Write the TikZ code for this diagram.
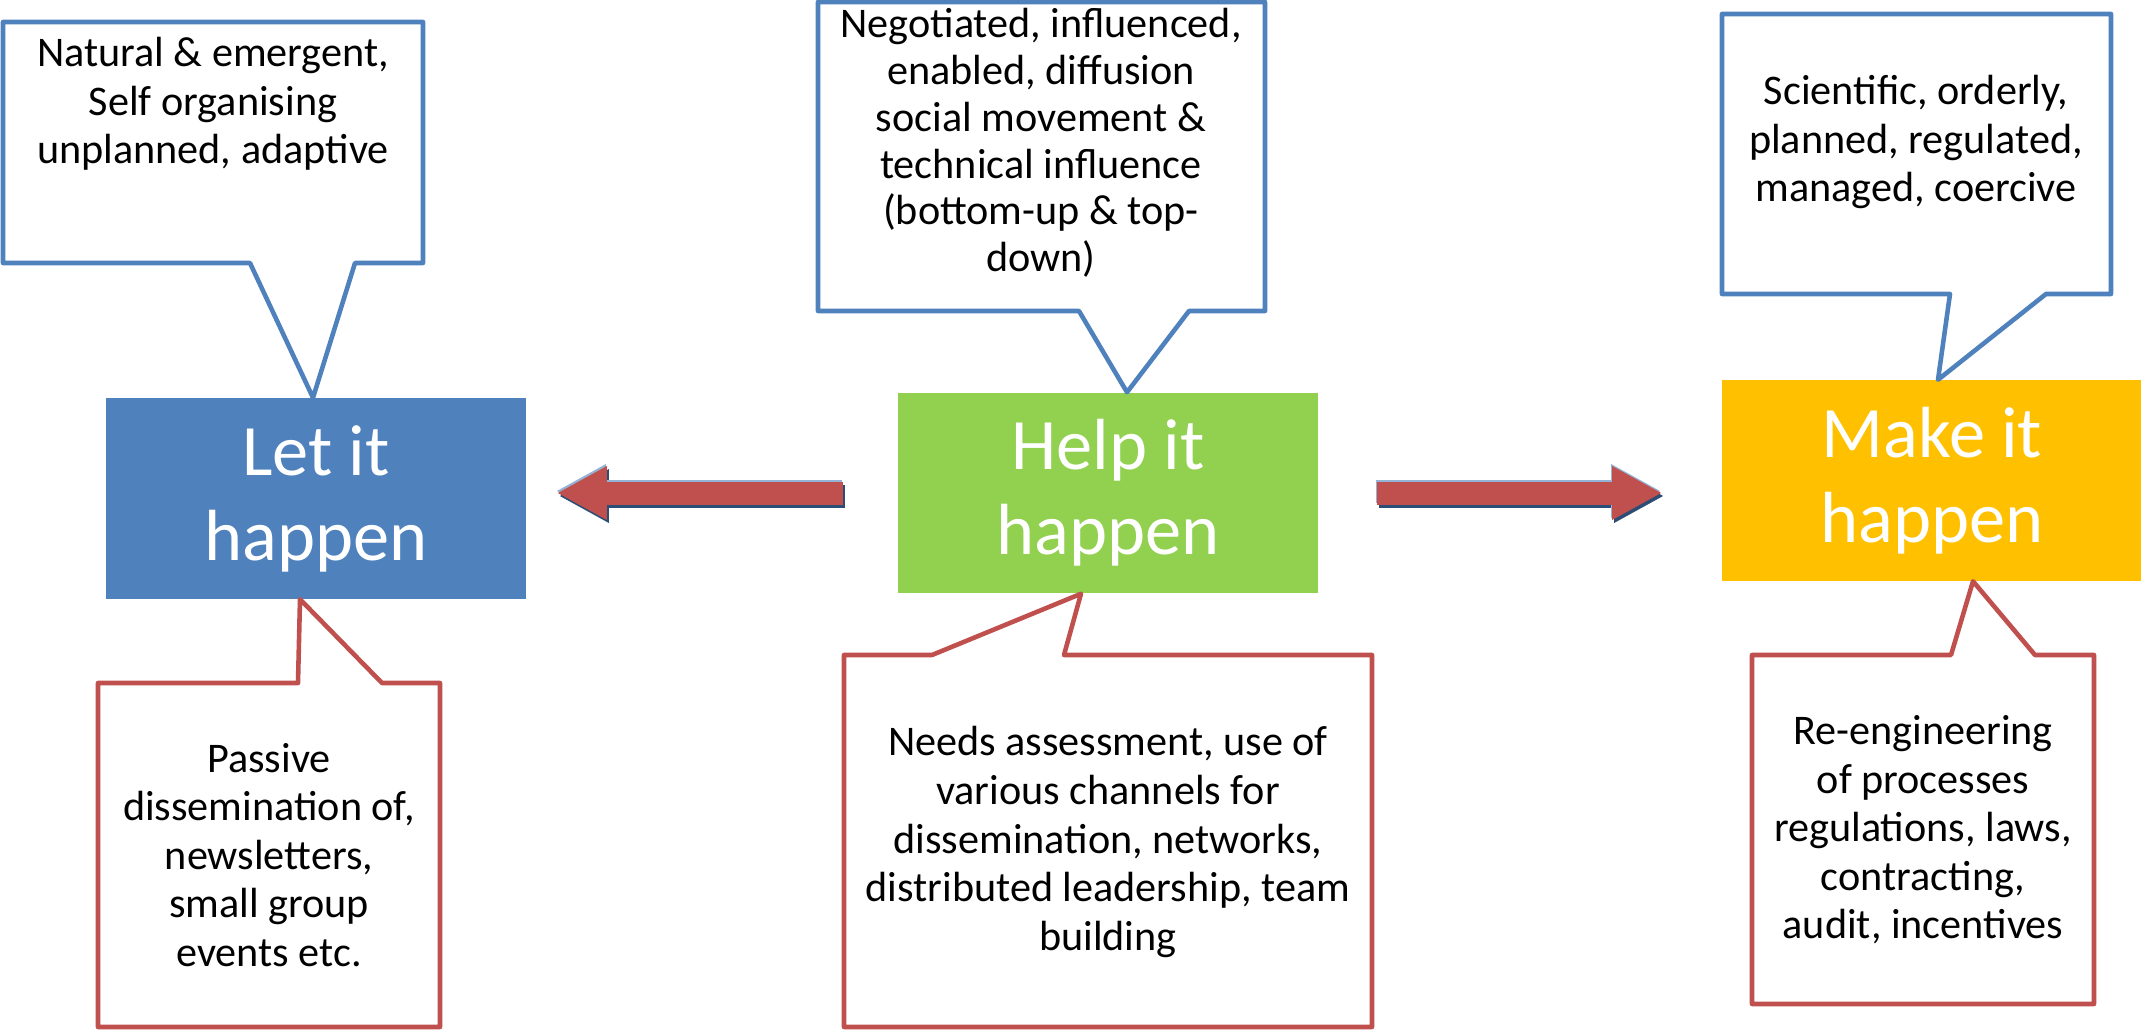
\documentclass[tikz,border=0pt]{standalone}
\usepackage{fontspec}
\setmainfont{Carlito}
\usetikzlibrary{calc,arrows.meta}

\definecolor{letBlue}{HTML}{4F81BD}
\definecolor{helpGreen}{HTML}{92D050}
\definecolor{makeGold}{HTML}{FFC000}
\definecolor{noteRed}{HTML}{C0504D}
\definecolor{arrowNavy}{HTML}{2C4D75}
\definecolor{arrowLight}{HTML}{95B3D7}

\def\stageWidth{4.2cm}
\def\stageHeight{2cm}
\def\outlineWidth{1.3pt}

\begin{document}
\begin{tikzpicture}[x=0.01cm,y=-0.01cm,
    stage/.style={minimum width=\stageWidth,minimum height=\stageHeight,inner sep=0pt,
      text=white,align=center,font=\fontsize{20.6}{24.2}\selectfont},
    note/.style={align=center,inner sep=0pt,font=\fontsize{12}{13.8}\selectfont},
    bubble/.style={line width=\outlineWidth,line join=round,fill=white},
    bigarrow/.style={line width=0.23cm,-{Triangle[length=0.5cm,width=0.5cm]}}]

    \useasboundingbox (0,0) rectangle (2141,1033);

    \node[stage,fill=letBlue] (let) at (316,498.5) {Let it\\happen};
    \node[stage,fill=helpGreen] (help) at (1108,493) {Help it\\happen};
    \node[stage,fill=makeGold] (make) at (1932,480.5) {Make it\\happen};

    \foreach \xl/\xr/\ys/\yo/\xa/\xb/\tip/\dx/\col in {
        3/423/263/22/250/355/let.north/-3/letBlue,
        818/1265/311/2/1079/1189/help.north/19/letBlue,
        1722/2111/294/14/1950/2046/make.north/6/letBlue,
        98/440/683/1027/298/382/let.south/-16/noteRed,
        844/1372/655/1027/932/1064/help.south/-27/noteRed,
        1752/2094/655/1004/1951/2035/make.south/41/noteRed} {
      \draw[bubble,draw=\col] (\xl,\ys) -- (\xa,\ys) -- ($(\tip)+(\dx,0)$) -- (\xb,\ys)
        -- (\xr,\ys) -- (\xr,\yo) -- (\xl,\yo) -- cycle;
    }

    \node[note] (natural) at (213,104) {Natural \& emergent,\\Self organising\\unplanned, adaptive};
    \node[note,font=\fontsize{12}{13.3}\selectfont] (negotiated) at (1041,143) {Negotiated, influenced,\\enabled, diffusion\\social movement \&\\technical influence\\(bottom-up \& top-\\down)};
    \node[note] (scientific) at (1916,142) {Scientific, orderly,\\planned, regulated,\\managed, coercive};
    \node[note] (passive) at (269,855) {Passive\\dissemination of,\\newsletters,\\small group\\events etc.};
    \node[note] (needs) at (1108,842) {Needs assessment, use of\\various channels for\\dissemination, networks,\\distributed leadership, team\\building};
    \node[note] (reengineer) at (1923,830) {Re-engineering\\of processes\\regulations, laws,\\contracting,\\audit, incentives};

    \foreach \col/\dx/\dy in {arrowNavy/2/3,arrowLight/-1/-2,noteRed/0/0} {
      \draw[bigarrow,draw=\col,transform canvas={shift={(\dx,\dy)}},shorten <=0.54cm,shorten >=0.3cm]
        (help.west) -- (help.west -| let.east);
      \draw[bigarrow,draw=\col,transform canvas={shift={(\dx,\dy)}},shorten <=0.58cm,shorten >=0.59cm]
        (help.east) -- (help.east -| make.west);
    }
\end{tikzpicture}
\end{document}
